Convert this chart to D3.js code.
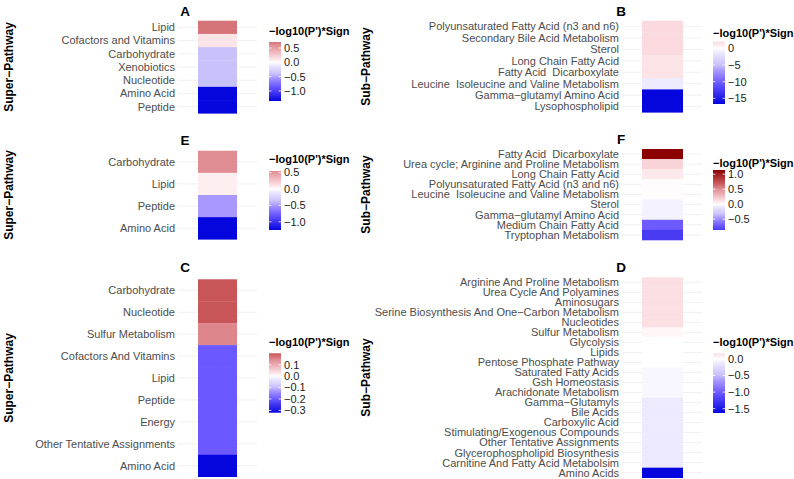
<!DOCTYPE html>
<html><head><meta charset="utf-8">
<script src="https://cdn.jsdelivr.net/npm/d3@7"></script>
<style>
html,body{margin:0;padding:0;background:#fff;}
svg{display:block;font-family:"Liberation Sans",Arial,Helvetica,sans-serif;}
text{white-space:pre;}
</style>
</head><body>
<svg id="chart" width="794" height="479"></svg>
<script>
// ---------------- DATA ----------------
const aCategories = ["Lipid","Cofactors and Vitamins","Carbohydrate","Xenobiotics","Nucleotide","Amino Acid","Peptide"];
const aValues = [0.71, 0.12, -0.4, -0.4, -0.4, -1.35, -1.35];
const aTicks = [0.5, 0.0, -0.5, -1.0];

const bCategories = ["Polyunsaturated Fatty Acid (n3 and n6)","Secondary Bile Acid Metabolism","Sterol","Long Chain Fatty Acid","Fatty Acid  Dicarboxylate","Leucine  Isoleucine and Valine Metabolism","Gamma\u2212glutamyl Amino Acid","Lysophospholipid"];
const bValues = [2.0, 2.0, 2.0, 1.5, 1.5, -1.2, -16.7, -16.7];
const bTicks = [0, -5, -10, -15];

const eCategories = ["Carbohydrate","Lipid","Peptide","Amino Acid"];
const eValues = [0.55, 0.07, -0.5, -1.25];
const eTicks = [0.5, 0.0, -0.5, -1.0];

const fCategories = ["Fatty Acid  Dicarboxylate","Urea cycle; Arginine and Proline Metabolism","Long Chain Fatty Acid","Polyunsaturated Fatty Acid (n3 and n6)","Leucine  Isoleucine and Valine Metabolism","Sterol","Gamma\u2212glutamyl Amino Acid","Medium Chain Fatty Acid","Tryptophan Metabolism"];
const fValues = [1.14, 0.17, 0.08, 0.01, 0.01, -0.05, -0.05, -0.7, -0.86];
const fTicks = [1.0, 0.5, 0.0, -0.5];

const cCategories = ["Carbohydrate","Nucleotide","Sulfur Metabolism","Cofactors And Vitamins","Lipid","Peptide","Energy","Other Tentative Assignments","Amino Acid"];
const cValues = [0.2, 0.2, 0.15, -0.2, -0.2, -0.2, -0.2, -0.2, -0.32];
const cTicks = [0.1, 0.0, -0.1, -0.2, -0.3];

const dCategories = ["Arginine And Proline Metabolism","Urea Cycle And Polyamines","Aminosugars","Serine Biosynthesis And One\u2212Carbon Metabolism","Nucleotides","Sulfur Metabolism","Glycolysis","Lipids","Pentose Phosphate Pathway","Saturated Fatty Acids","Gsh Homeostasis","Arachidonate Metabolism","Gamma\u2212Glutamyls","Bile Acids","Carboxylic Acid","Stimulating/Exogenous Compounds","Other Tentative Assignments","Glycerophospholipid Biosynthesis","Carnitine And Fatty Acid Metabolsim","Amino Acids"];
const dValues = [0.17, 0.17, 0.17, 0.17, 0.17, 0.05, 0.0, 0.0, 0.0, -0.05, -0.05, -0.05, -0.12, -0.12, -0.12, -0.12, -0.12, -0.12, -0.12, -1.63];
const dTicks = [0.0, -0.5, -1.0, -1.5];

// ---------------- STYLE / LAYOUT ----------------
const redRamp = d3.scaleLinear().domain([0,0.12,0.45,0.625,1])
  .range(["#ffffff","#fadade","#df8c92","#c85558","#8b0000"]).clamp(true);
const blueRamp = d3.scaleLinear().domain([0,0.07,0.3,0.4,0.625,1])
  .range(["#ffffff","#eeeaff","#c8c0fa","#a898ff","#6b58ff","#0505dd"]).clamp(true);
function makeColor(values){
  const M = d3.max(values, v => Math.abs(v));
  return v => v >= 0 ? redRamp(v / M) : blueRamp(-v / M);
}

const LEFT = {tileX:[198,237], gridX:[178,257], labelX:175, titleX:185, axisTitle:"Super\u2212Pathway", axisTitleX:8.5, legX:269};
const RIGHT = {tileX:[642,683], gridX:[622,702], labelX:619, titleX:621, axisTitle:"Sub\u2212Pathway", axisTitleX:366, legX:713};

const panels = [
  {col:LEFT,  letter:"A", cats:aCategories, vals:aValues, ticks:aTicks, fmt:".1f", tileY:[20.7,113.3], titleY:15.7, legTitleY:35, barY:[42,101]},
  {col:RIGHT, letter:"B", cats:bCategories, vals:bValues, ticks:bTicks, fmt:"d",   tileY:[20.7,112.3], titleY:16,   legTitleY:37, barY:[41.7,104]},
  {col:LEFT,  letter:"E", cats:eCategories, vals:eValues, ticks:eTicks, fmt:".1f", tileY:[150.7,239.3], titleY:145, legTitleY:163.3, barY:[171,230]},
  {col:RIGHT, letter:"F", cats:fCategories, vals:fValues, ticks:fTicks, fmt:".1f", tileY:[149,240], titleY:143.5, legTitleY:167.3, barY:[170,230]},
  {col:LEFT,  letter:"C", cats:cCategories, vals:cValues, ticks:cTicks, fmt:".1f", tileY:[279.3,476.7], titleY:271.5, legTitleY:345.7, barY:[353.3,412.7]},
  {col:RIGHT, letter:"D", cats:dCategories, vals:dValues, ticks:dTicks, fmt:".1f", tileY:[277.3,477.7], titleY:271.5, legTitleY:345.7, barY:[353.3,413]}
];

const svg = d3.select("#chart");
const defs = svg.append("defs");

panels.forEach((p, pi) => {
  const c = p.col;
  const color = makeColor(p.vals);
  const g = svg.append("g");
  const y = d3.scaleBand().domain(p.cats).range(p.tileY).padding(0);
  const x = d3.scaleBand().domain(["x"]).range(c.tileX).padding(0);

  // grid lines
  g.selectAll("line.grid").data(p.cats).join("line")
    .attr("x1", c.gridX[0]).attr("x2", c.gridX[1])
    .attr("y1", d => y(d) + y.bandwidth()/2).attr("y2", d => y(d) + y.bandwidth()/2)
    .attr("stroke", "#ececec").attr("stroke-width", 0.8);

  // tiles
  g.selectAll("rect.tile").data(p.cats.map((k,i)=>({k, v:p.vals[i]}))).join("rect")
    .attr("x", x("x")).attr("width", x.bandwidth())
    .attr("y", d => y(d.k)).attr("height", y.bandwidth() + 0.3)
    .attr("fill", d => color(d.v));

  // y axis labels
  g.selectAll("text.lab").data(p.cats).join("text")
    .attr("x", c.labelX).attr("y", d => y(d) + y.bandwidth()/2)
    .attr("dy", "0.35em").attr("text-anchor", "end")
    .attr("font-size", 11).attr("fill", "#4d4d4d").text(d => d);

  // panel letter
  g.append("text").attr("x", c.titleX).attr("y", p.titleY)
    .attr("text-anchor", "middle").attr("font-size", 13.5).attr("font-weight", "bold")
    .attr("fill", "#000").text(p.letter);

  // axis title
  const cy = (p.tileY[0] + p.tileY[1]) / 2;
  g.append("text").attr("transform", `translate(${c.axisTitleX},${cy}) rotate(-90)`)
    .attr("text-anchor", "middle").attr("dy", "0.35em")
    .attr("font-size", 12).attr("font-weight", "bold").attr("fill", "#000")
    .text(c.axisTitle);

  // legend
  const vmin = d3.min(p.vals), vmax = d3.max(p.vals);
  const ly = d3.scaleLinear().domain([vmin, vmax]).range([p.barY[1], p.barY[0]]);
  const gid = "grad" + pi;
  const grad = defs.append("linearGradient").attr("id", gid)
    .attr("x1", 0).attr("x2", 0).attr("y1", 1).attr("y2", 0);
  d3.range(0, 41).forEach(i => {
    const t = i / 40;
    grad.append("stop").attr("offset", t).attr("stop-color", color(vmin + t * (vmax - vmin)));
  });
  g.append("text").attr("x", c.legX).attr("y", p.legTitleY)
    .attr("font-size", 11).attr("font-weight", "bold").attr("fill", "#000")
    .text("\u2212log10(P')*Sign");
  const bw = 12;
  g.append("rect").attr("x", c.legX).attr("y", p.barY[0])
    .attr("width", bw).attr("height", p.barY[1] - p.barY[0]).attr("fill", `url(#${gid})`);
  const fmt = d3.format(p.fmt);
  p.ticks.forEach(t => {
    const ty = ly(t);
    g.append("line").attr("x1", c.legX).attr("x2", c.legX + 2.4).attr("y1", ty).attr("y2", ty)
      .attr("stroke", "#fff").attr("stroke-width", 0.8);
    g.append("line").attr("x1", c.legX + bw - 2.4).attr("x2", c.legX + bw).attr("y1", ty).attr("y2", ty)
      .attr("stroke", "#fff").attr("stroke-width", 0.8);
    g.append("text").attr("x", c.legX + bw + 3).attr("y", ty).attr("dy", "0.35em")
      .attr("font-size", 11).attr("fill", "#1a1a1a").text(fmt(t));
  });
});
</script>
</body></html>
